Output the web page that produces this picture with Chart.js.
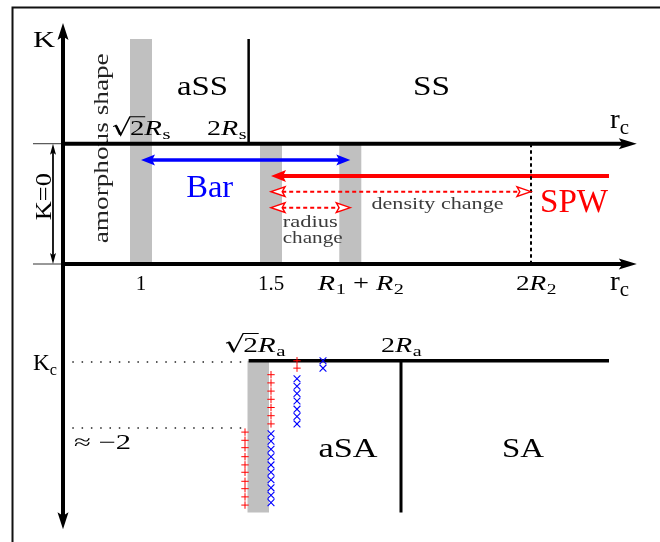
<!DOCTYPE html>
<html>
<head>
<meta charset="utf-8">
<style>
html,body{margin:0;padding:0;background:#fff;}
#wrap{width:660px;height:542px;position:relative;}
canvas{display:block;}
</style>
<script src="https://cdn.jsdelivr.net/npm/chart.js@4.4.1/dist/chart.umd.min.js"></script>
</head>
<body>
<div id="wrap"><canvas id="c" width="660" height="542"></canvas></div>
<script>
// ---------------- data (r_c along x, K / schematic level along y) ----------------
const rTickValues = [1, 1.5, 1.805, 2.5];                 // 1, 1.5, R1+R2, 2R2
const rTickLabels = ['1', '1.5', 'R_1 + R_2', '2R_2'];
const sqrt2Rs = 1.0, twoRs = 1.414;                         // upper panel boundaries
const sqrt2Ra = 1.414, twoRa = 2.0;                          // lower panel boundaries
const rAxisStart = 0.7, rAxisTip = 2.907;
const kAxisTop = 2.939, kAxisBottom = -3.235;
const kZeroTop = 1.467, kZeroBottom = 0;                     // K = 0 band
const kcLevel = -1.18, kMinus2 = -2;
const upperRegionTop = 2.744, lowerRegionBottom = -3.03;
const barRange = [1.0, 1.805], barLevel = 1.268;            // "Bar"
const spwRange = [1.5, 2.8], spwLevel = 1.073;              // "SPW"
const densityRange = [1.5, 2.5], densityLevel = 0.882;      // density change
const radiusRange = [1.5, 1.805], radiusLevel = 0.687;      // radius change
const kcLineEnd = 2.8;
const upperBands = [sqrt2Rs, 1.5, 1.805];
const upperBandTops = [upperRegionTop, kZeroTop, kZeroTop];
const lowerBandX = 1.451;

// simulation markers (lower panel)
const plusColumns = [1.4, 1.5, 1.6];
const plusK = [
  [-2.05, -2.15, -2.24, -2.35, -2.45, -2.54, -2.65, -2.74, -2.84, -2.94],
  [-1.35, -1.45, -1.55, -1.65, -1.75, -1.85, -1.95],
  [-1.18, -1.27]
];
const crossColumns = [1.5, 1.6, 1.7];
const crossK = [
  [-2.07, -2.16, -2.26, -2.35, -2.45, -2.54, -2.63, -2.73, -2.82, -2.91],
  [-1.40, -1.49, -1.58, -1.67, -1.77, -1.86, -1.95],
  [-1.18, -1.27]
];

// ---------------- styling ----------------
const GREY = '#c0c0c0', BLUE = '#0000ff', RED = '#ff0000', TXTGREY = '#3c3c3c';
const FONT = '"Liberation Serif"';

const datasets = [];
function line(pts, style) {
  datasets.push(Object.assign({
    type: 'scatter', showLine: true,
    data: pts.map(([x, y]) => ({x, y})),
    pointRadius: 0, pointHoverRadius: 0, borderColor: '#000', borderWidth: 1,
    fill: false, tension: 0, borderCapStyle: 'butt', borderJoinStyle: 'miter', order: 5
  }, style));
}

upperBands.forEach((x, i) => line([[x, upperBandTops[i]], [x, kZeroBottom]], {borderColor: GREY, borderWidth: 22, order: 10}));
line([[lowerBandX, kcLevel], [lowerBandX, lowerRegionBottom]], {borderColor: GREY, borderWidth: 21.5, order: 10});

line([[0.5058, -3.40], [0.5058, 3.128], [3.0, 3.128]], {borderColor: '#111', borderWidth: 2});

const axisHead = {L: 17, W: 5.5, color: '#000'};
line([[rAxisStart, kAxisBottom], [rAxisStart, kAxisTop]], {borderWidth: 4, arrowStart: axisHead, arrowEnd: axisHead});
line([[rAxisStart, kZeroTop], [rAxisTip, kZeroTop]], {borderWidth: 4, arrowEnd: {L: 18, W: 5.5, color: '#000'}});
line([[rAxisStart, kZeroBottom], [rAxisTip, kZeroBottom]], {borderWidth: 4, arrowEnd: {L: 18, W: 5.5, color: '#000'}});
line([[0.5846, kZeroTop], [rAxisStart, kZeroTop]], {borderWidth: 1, borderColor: '#333'});
line([[0.5846, kZeroBottom], [rAxisStart, kZeroBottom]], {borderWidth: 1, borderColor: '#333'});
const thinHead = {L: 11, W: 3, color: '#000'};
line([[0.6615, kZeroTop], [0.6615, kZeroBottom]], {borderWidth: 1, arrowStart: thinHead, arrowEnd: thinHead});

line([[twoRs, upperRegionTop], [twoRs, kZeroTop]], {borderWidth: 2.5});
line([[rTickValues[3], kZeroTop], [rTickValues[3], kZeroBottom]], {borderWidth: 2, borderDash: [3.5, 3]});

const blueHead = {L: 14, W: 5.5, color: BLUE};
line([[barRange[0], barLevel], [barRange[1], barLevel]], {borderColor: BLUE, borderWidth: 3.5, arrowStart: blueHead, arrowEnd: blueHead});
line([[spwRange[0], spwLevel], [spwRange[1], spwLevel]], {borderColor: RED, borderWidth: 4, arrowStart: {L: 15, W: 6, color: RED}});
const openHead = {L: 14, W: 4.8, color: RED, open: true};
line([[densityRange[0], densityLevel], [densityRange[1], densityLevel]], {borderColor: RED, borderWidth: 2, borderDash: [4, 3], arrowStart: openHead, arrowEnd: openHead});
line([[radiusRange[0], radiusLevel], [radiusRange[1], radiusLevel]], {borderColor: RED, borderWidth: 2, borderDash: [4, 3], arrowStart: openHead, arrowEnd: openHead});

line([[rAxisStart, kcLevel - 0.015], [1.40, kcLevel - 0.015]], {borderWidth: 1.5, borderDash: [1.5, 7.8], borderColor: '#222'});
line([[rAxisStart, kMinus2], [1.40, kMinus2]], {borderWidth: 1.5, borderDash: [1.5, 7.8], borderColor: '#222'});
line([[sqrt2Ra, kcLevel], [kcLineEnd, kcLevel]], {borderWidth: 3.5});
line([[twoRa, kcLevel], [twoRa, lowerRegionBottom]], {borderWidth: 3});

plusColumns.forEach((x, i) => datasets.push({
  type: 'scatter', data: plusK[i].map(k => ({x, y: k})), pointStyle: 'cross',
  pointRadius: 3.7, pointHoverRadius: 3.7, borderColor: RED, pointBorderColor: RED, pointBorderWidth: 1, showLine: false, order: 1
}));
crossColumns.forEach((x, i) => datasets.push({
  type: 'scatter', data: crossK[i].map(k => ({x, y: k})), pointStyle: 'crossRot',
  pointRadius: 4.8, pointHoverRadius: 4.8, borderColor: BLUE, pointBorderColor: BLUE, pointBorderWidth: 1.1, showLine: false, order: 1
}));

const labels = [
  {t: 'K', x: 0.6269, y: 2.646, size: 24, w: 22},
  {t: 'aSS', x: 1.2365, y: 2.061, size: 28, w: 51},
  {t: 'SS', x: 2.1173, y: 2.061, size: 28, w: 37},
  {t: '√2R_s', x: sqrt2Rs, y: 1.573, size: 21, w: 58},
  {t: '2R_s', x: 1.3288, y: 1.573, size: 21, w: 39},
  {t: 'amorphous shape', x: 0.8742, y: 1.411, size: 21, w: 190, rot: -90, under: true, color: '#222'},
  {t: 'K=0', x: 0.6527, y: 0.8207, size: 24, w: 47, rot: -90},
  {t: 'Bar', x: 1.2642, y: 0.8207, size: 32, w: 47, color: BLUE},
  {t: 'SPW', x: 2.6654, y: 0.6378, size: 33, w: 68, color: RED},
  {t: 'density change', x: 2.1404, y: 0.6707, size: 17, w: 132, color: TXTGREY},
  {t: 'radius', x: 1.545, y: 0.4549, size: 17, w: 55, color: TXTGREY, align: 'left'},
  {t: 'change', x: 1.545, y: 0.2561, size: 17, w: 60, color: TXTGREY, align: 'left'},
  {t: 'r_c', x: 2.8038, y: 1.6585, size: 28, w: 19, align: 'left'},
  {t: 'r_c', x: 2.8038, y: -0.317, size: 28, w: 19, align: 'left'},
  {t: 'K_c', x: 0.5846, y: -1.293, size: 23, w: 24, align: 'left'},
  {t: '≈ −2', x: 0.7423, y: -2.256, size: 21, w: 57, align: 'left'},
  {t: '√2R_a', x: sqrt2Ra + 0.0245, y: -1.0695, size: 21, w: 60},
  {t: '2R_a', x: twoRa, y: -1.073, size: 21, w: 40},
  {t: 'aSA', x: 1.796, y: -2.357, size: 28, w: 59},
  {t: 'SA', x: 2.469, y: -2.357, size: 28, w: 42}
];
const tickShift = [0, 0, 10, 5];
const tickWidth = [0, 0, 85, 40];
rTickValues.forEach((v, i) => labels.push({t: rTickLabels[i], x: v, dx: tickShift[i], y: -0.317, size: 21, w: tickWidth[i]}));

function parse(str) {
  const segs = []; let i = 0;
  while (i < str.length) {
    const c = str[i];
    if (c === '√') { segs.push(['rad', str[i + 1]]); i += 2; }
    else if (c === '_') { segs.push(['sub', str[i + 1]]); i += 2; }
    else if (c === 'R') { segs.push(['it', 'R']); i += 1; }
    else {
      const last = segs[segs.length - 1];
      if (last && last[0] === 'rm') last[1] += c; else segs.push(['rm', c]);
      i += 1;
    }
  }
  return segs;
}
function fontFor(kind, size) {
  if (kind === 'it') return `italic ${size}px ${FONT}`;
  if (kind === 'sub') return `${Math.round(size * 0.7)}px ${FONT}`;
  return `${size}px ${FONT}`;
}
function segW(ctx, s, size) {
  if (s[0] === 'rad') { ctx.font = fontFor('rm', size); return 0.62 * size + ctx.measureText(s[1]).width; }
  ctx.font = fontFor(s[0], size); return ctx.measureText(s[1]).width;
}
function drawSegs(ctx, segs, size, x) {
  for (const s of segs) {
    const [k, t] = s;
    if (k === 'rad') {
      const rw = 0.62 * size;
      ctx.font = fontFor('rm', size);
      const w = ctx.measureText(t).width;
      ctx.save();
      ctx.lineJoin = 'miter'; ctx.lineCap = 'butt';
      ctx.lineWidth = 1.1;
      ctx.beginPath();
      ctx.moveTo(x + 0.04 * size, -0.40 * size);
      ctx.lineTo(x + 0.14 * size, -0.46 * size);
      ctx.lineTo(x + 0.30 * size, 0.0);
      ctx.lineTo(x + rw, -0.87 * size);
      ctx.lineTo(x + rw + w + 0.03 * size, -0.87 * size);
      ctx.stroke();
      ctx.lineWidth = 2;
      ctx.beginPath();
      ctx.moveTo(x + 0.14 * size, -0.44 * size);
      ctx.lineTo(x + 0.29 * size, -0.02 * size);
      ctx.stroke();
      ctx.restore();
      ctx.fillText(t, x + rw, 0);
      x += rw + w;
    } else if (k === 'sub') {
      ctx.font = fontFor('sub', size);
      ctx.fillText(t, x, 0.2 * size);
      x += ctx.measureText(t).width;
    } else {
      ctx.font = fontFor(k, size);
      ctx.fillText(t, x, 0);
      x += ctx.measureText(t).width + (k === 'it' ? 0.02 * size : 0);
    }
  }
}
function drawLabel(chart, L) {
  const ctx = chart.ctx;
  const px = chart.scales.x.getPixelForValue(L.x) + (L.dx || 0);
  const py = chart.scales.y.getPixelForValue(L.y);
  const segs = parse(L.t);
  let nat = 0; segs.forEach(s => nat += segW(ctx, s, L.size));
  const sx = L.w ? L.w / nat : 1;
  ctx.save();
  ctx.translate(px, py);
  if (L.rot) ctx.rotate(L.rot * Math.PI / 180);
  ctx.scale(sx, 1);
  ctx.fillStyle = ctx.strokeStyle = L.color || '#000';
  ctx.textBaseline = 'alphabetic'; ctx.textAlign = 'left';
  const x0 = L.align === 'left' ? 0 : -nat / 2;
  drawSegs(ctx, segs, L.size, x0);
  ctx.restore();
}

const arrowPlugin = {
  id: 'arrows',
  afterDatasetsUpdate(chart) {
    chart.data.datasets.forEach((d, i) => {
      if (!d.arrowStart && !d.arrowEnd) return;
      const pts = chart.getDatasetMeta(i).data;
      const n = pts.length;
      const heads = [];
      const mk = (tip, from, h) => {
        const a = Math.atan2(tip.y - from.y, tip.x - from.x);
        heads.push({x: tip.x, y: tip.y, a, h});
        const back = h.open ? 0.8 * h.L : 0.5 * h.L;
        tip.x -= Math.cos(a) * back; tip.y -= Math.sin(a) * back;
      };
      const p1 = {x: pts[1].x, y: pts[1].y};
      const pm = {x: pts[n - 2].x, y: pts[n - 2].y};
      if (d.arrowEnd) mk(pts[n - 1], pm, d.arrowEnd);
      if (d.arrowStart) mk(pts[0], p1, d.arrowStart);
      chart.getDatasetMeta(i)._heads = heads;
    });
  },
  afterDatasetsDraw(chart) {
    const ctx = chart.ctx;
    chart.data.datasets.forEach((d, i) => {
      const heads = chart.getDatasetMeta(i)._heads;
      if (!heads) return;
      heads.forEach(({x, y, a, h}) => {
        ctx.save();
        ctx.translate(x, y); ctx.rotate(a);
        ctx.beginPath();
        ctx.moveTo(0, 0);
        ctx.lineTo(-h.L, h.W);
        ctx.lineTo(-0.8 * h.L, 0);
        ctx.lineTo(-h.L, -h.W);
        ctx.closePath();
        if (h.open) {
          ctx.fillStyle = '#fff'; ctx.fill();
          ctx.strokeStyle = h.color; ctx.lineWidth = 1.4; ctx.lineJoin = 'miter'; ctx.stroke();
        } else {
          ctx.fillStyle = h.color; ctx.fill();
        }
        ctx.restore();
      });
    });
  }
};
const labelPlugin = {
  id: 'labels',
  beforeDatasetsDraw(chart) { labels.filter(l => l.under).forEach(l => drawLabel(chart, l)); },
  afterDatasetsDraw(chart) { labels.filter(l => !l.under).forEach(l => drawLabel(chart, l)); }
};
const bgPlugin = {
  id: 'bg',
  beforeDraw(chart) { const c = chart.ctx; c.save(); c.fillStyle = '#fff'; c.fillRect(0, 0, chart.width, chart.height); c.restore(); }
};

new Chart(document.getElementById('c'), {
  type: 'scatter',
  data: {datasets},
  options: {
    responsive: false,
    animation: false,
    devicePixelRatio: 1,
    events: [],
    layout: {padding: 0, autoPadding: false},
    plugins: {legend: {display: false}, tooltip: {enabled: false}, title: {display: false}},
    scales: {
      x: {type: 'linear', display: false, min: 0.457692, max: 2.996154},
      y: {type: 'linear', display: false, min: -3.390244, max: 3.219512}
    }
  },
  plugins: [bgPlugin, arrowPlugin, labelPlugin]
});
</script>
</body>
</html>
